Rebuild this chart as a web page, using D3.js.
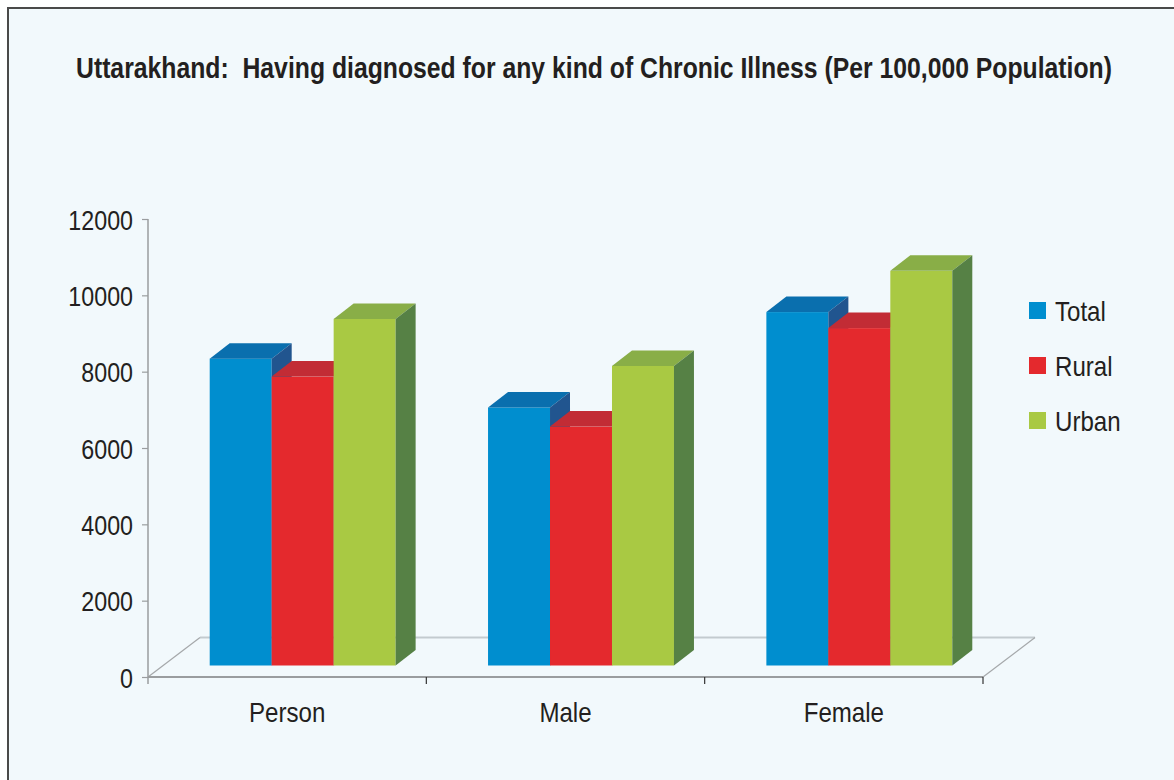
<!DOCTYPE html>
<html>
<head>
<style>
body { margin: 0; background: #fff; }
svg text { font-family: "Liberation Sans", Arial, sans-serif; fill: #231f20; }
.title { font-weight: bold; font-size: 29px; }
.tick-label { font-size: 28px; }
.legend text { font-size: 28px; }
</style>
<title>Chronic Illness</title>
<script src="https://cdn.jsdelivr.net/npm/d3@7/dist/d3.min.js"></script>
</head>
<body>
<svg width="1174" height="780"></svg>
<script>

var categories = ["Person", "Male", "Female"];
var series = ["Total", "Rural", "Urban"];
var totalValues = [8040, 6760, 9260];
var ruralValues = [7570, 6260, 8840];
var urbanValues = [9080, 7850, 10340];
var yTicks = [0, 2000, 4000, 6000, 8000, 10000, 12000];

var colors = {
  Total: {front: "#008ecf", top: "#0a6fae", side: "#21558f"},
  Rural: {front: "#e4292d", top: "#c22c35", side: "#9c2430"},
  Urban: {front: "#a9c943", top: "#89ae47", side: "#568145"}
};

// no narrow font installed, so squeeze the glyphs instead
function condense(sel, k) {
  sel.each(function() {
    var w = this.getComputedTextLength();
    d3.select(this).attr("textLength", w * k).attr("lengthAdjust", "spacingAndGlyphs");
  });
}

var svg = d3.select("svg");

svg.append("rect")
    .attr("x", 8).attr("y", 8)
    .attr("width", 1200).attr("height", 800)
    .attr("fill", "#f2f9fc")
    .attr("stroke", "#4a4a4a")
    .attr("stroke-width", 2);

svg.append("text")
    .attr("class", "title")
    .attr("x", 594)
    .attr("y", 78)
    .attr("text-anchor", "middle")
    .attr("textLength", 1036)
    .attr("lengthAdjust", "spacingAndGlyphs")
    .text("Uttarakhand:  Having diagnosed for any kind of Chronic Illness (Per 100,000 Population)")
    .style("white-space", "pre");

var x = d3.scaleBand().domain(categories).range([148, 983]).padding(0),
    y = d3.scaleLinear().domain([0, 12000]).range([677, 219]);

var groupW = x.bandwidth() * 0.668;
var xs = d3.scaleBand().domain(series).range([0, groupW]);

// 3d offsets
var floorDx = 52, floorDy = -39.5;
var frontDx = 15.5, frontDy = -11.5;
var barDx = 20, barDy = -15.5;

// floor
var x0 = x.range()[0], x1 = x.range()[1], y0 = y(0);
svg.append("line")
    .attr("x1", x0 + floorDx).attr("y1", y0 + floorDy)
    .attr("x2", x1 + floorDx).attr("y2", y0 + floorDy)
    .attr("stroke", "#c3cbcf").attr("stroke-width", 2);
[x0, x1].forEach(function(px) {
  svg.append("line")
      .attr("x1", px).attr("y1", y0)
      .attr("x2", px + floorDx).attr("y2", y0 + floorDy)
      .attr("stroke", "#a5a8aa").attr("stroke-width", 1.2);
});

// axes
var yAxis = svg.append("g")
    .attr("transform", "translate(" + x0 + ",0)")
    .call(d3.axisLeft(y).tickValues(yTicks).tickSize(6).tickPadding(9).tickFormat(d3.format("d")));
yAxis.select(".domain").attr("stroke", "#9a9d9f").attr("stroke-width", 1.5)
    .attr("d", "M0," + y(12000) + "V" + (y0 + 7));
yAxis.selectAll(".tick line").attr("stroke", "#9a9d9f").attr("stroke-width", 1.2);
yAxis.selectAll(".tick text").attr("class", "tick-label").attr("font-size", null)
    .attr("font-family", null).attr("fill", null).attr("dy", "0.36em")
    .call(condense, 0.83);

var xAxis = svg.append("g")
    .attr("transform", "translate(0," + y0 + ")");
xAxis.append("line")
    .attr("x1", x0).attr("x2", x1)
    .attr("stroke", "#9a9d9f").attr("stroke-width", 2);
xAxis.selectAll(".xtick")
    .data(categories)
    .enter().append("line")
      .attr("class", "xtick")
      .attr("x1", function(d) { return x(d) + x.bandwidth(); })
      .attr("x2", function(d) { return x(d) + x.bandwidth(); })
      .attr("y1", 0).attr("y2", 7)
      .attr("stroke", "#333").attr("stroke-width", 1.2);
xAxis.selectAll(".xlabel")
    .data(categories)
    .enter().append("text")
      .attr("class", "tick-label")
      .attr("x", function(d) { return x(d) + x.bandwidth() / 2; })
      .attr("y", 45)
      .attr("text-anchor", "middle")
      .text(function(d) { return d; })
      .call(condense, 0.86);

// bars
var valuesBySeries = {Total: totalValues, Rural: ruralValues, Urban: urbanValues};

categories.forEach(function(cat, ci) {
  var gx = x(cat) + (x.bandwidth() - groupW) / 2 + frontDx;
  series.forEach(function(s) {
    var v = valuesBySeries[s][ci];
    var left = gx + xs(s), right = left + xs.bandwidth();
    var bottom = y(0) + frontDy, top = y(v) + frontDy;
    var c = colors[s];
    svg.append("rect")
        .attr("x", left).attr("y", top)
        .attr("width", xs.bandwidth()).attr("height", bottom - top)
        .attr("fill", c.front);
    svg.append("polygon")
        .attr("points", [[left, top], [right, top], [right + barDx, top + barDy], [left + barDx, top + barDy]].join(" "))
        .attr("fill", c.top);
    svg.append("polygon")
        .attr("points", [[right, top], [right + barDx, top + barDy], [right + barDx, bottom + barDy], [right, bottom]].join(" "))
        .attr("fill", c.side);
  });
});

// legend
var legend = svg.append("g").attr("class", "legend")
    .attr("transform", "translate(1029,302)");
series.forEach(function(s, i) {
  legend.append("rect")
      .attr("x", 0).attr("y", i * 55)
      .attr("width", 17).attr("height", 17)
      .attr("fill", colors[s].front);
  legend.append("text")
      .attr("x", 26).attr("y", i * 55 + 18.5)
      .text(s)
      .call(condense, 0.86);
});

</script>
</body>
</html>
